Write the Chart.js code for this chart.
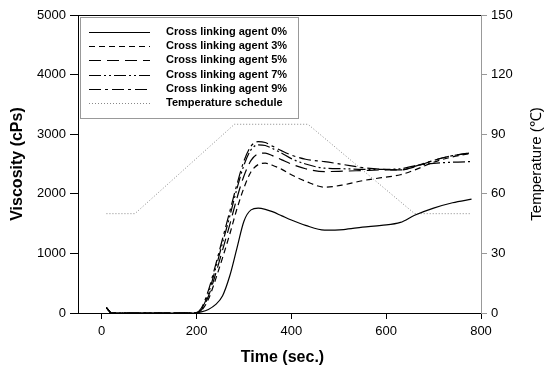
<!DOCTYPE html>
<html>
<head>
<meta charset="utf-8">
<script src="https://cdn.jsdelivr.net/npm/chart.js@4.4.0/dist/chart.umd.min.js"></script>
<style>
  html, body { margin: 0; padding: 0; background: #fff; }
</style>
</head>
<body>
<canvas id="grafico" width="548" height="370"></canvas>
<script>
// tempos (s) das curvas de viscosidade
const tempo = [10, 15, 20, 100, 195, 210, 225, 240, 255, 270, 285, 300, 315, 330, 345, 360, 380, 400, 430, 470, 510, 550, 590, 630, 660, 700, 740, 780];

// viscosidade (cPs) para cada teor de agente reticulante
const visc0 = [90, 40, 0, 0, 0, 20, 60, 140, 290, 620, 1080, 1540, 1730, 1760, 1740, 1700, 1630, 1560, 1470, 1390, 1400, 1440, 1470, 1520, 1640, 1760, 1850, 1910];
const visc3 = [90, 40, 0, 0, 0, 40, 230, 560, 930, 1320, 1740, 2100, 2370, 2490, 2514, 2480, 2410, 2320, 2210, 2112, 2150, 2220, 2270, 2320, 2400, 2530, 2620, 2680];
const visc5 = [90, 40, 0, 0, 0, 50, 280, 650, 1060, 1480, 1920, 2300, 2560, 2670, 2682, 2640, 2570, 2500, 2420, 2373, 2380, 2390, 2400, 2400, 2450, 2560, 2640, 2690];
const visc7 = [90, 40, 0, 0, 0, 60, 330, 740, 1180, 1620, 2080, 2480, 2740, 2820, 2810, 2760, 2680, 2590, 2500, 2430, 2420, 2410, 2410, 2420, 2470, 2510, 2530, 2540];
const visc9 = [90, 40, 0, 0, 0, 80, 380, 800, 1250, 1700, 2150, 2550, 2800, 2876, 2860, 2800, 2720, 2650, 2580, 2540, 2490, 2440, 2410, 2400, 2460, 2560, 2640, 2690];

// programa de temperatura
const tempoTemp = [10, 70, 280, 435, 660, 780];
const temperatura = [50, 50, 95, 95, 50, 50];

const rotulos = ['Cross linking agent 0%', 'Cross linking agent 3%', 'Cross linking agent 5%', 'Cross linking agent 7%', 'Cross linking agent 9%', 'Temperature schedule'];
const ticksX = [0, 200, 400, 600, 800];

function pontos(xs, ys) {
  return xs.map((x, i) => ({ x: x, y: ys[i] }));
}

function serie(label, ys, dash) {
  return {
    label: label,
    data: pontos(tempo, ys),
    borderColor: '#000',
    borderWidth: 1.2,
    borderDash: dash,
    pointRadius: 0,
    fill: false,
    cubicInterpolationMode: 'monotone',
    yAxisID: 'y'
  };
}

const fonteTick = { family: 'Liberation Sans, Arial, sans-serif', size: 13 };
const semVirgula = v => String(v); // sem separador de milhar

// desenha legenda, titulos e a linha de cima
const extras = {
  id: 'extras',
  afterDraw(chart) {
    const ctx = chart.ctx;
    const a = chart.chartArea;
    ctx.save();
    ctx.strokeStyle = '#000';
    ctx.lineWidth = 1;
    ctx.beginPath();
    ctx.moveTo(a.left, a.top + 0.5);
    ctx.lineTo(a.right, a.top + 0.5);
    ctx.stroke();

    ctx.fillStyle = '#000';
    ctx.textAlign = 'center';
    ctx.textBaseline = 'middle';
    ctx.font = 'bold 16px "Liberation Sans", Arial, sans-serif';
    ctx.fillText('Time (sec.)', (a.left + a.right) / 2 + 3, 358);

    ctx.save();
    ctx.translate(18, (a.top + a.bottom) / 2);
    ctx.rotate(-Math.PI / 2);
    ctx.fillText('Viscosity (cPs)', 0, 0);
    ctx.restore();

    ctx.save();
    ctx.translate(537, (a.top + a.bottom) / 2);
    ctx.rotate(-Math.PI / 2);
    ctx.font = '15px "Liberation Sans", Arial, sans-serif';
    ctx.fillText('Temperature (\u2103)', 0, 0);
    ctx.restore();

    // legenda
    ctx.fillStyle = '#fff';
    ctx.fillRect(80.5, 17.5, 218, 101);
    ctx.strokeStyle = '#999';
    ctx.strokeRect(80.5, 17.5, 218, 101);
    ctx.font = 'bold 11px "Liberation Sans", Arial, sans-serif';
    ctx.textAlign = 'left';
    chart.data.datasets.forEach((ds, i) => {
      const y = 32 + i * 14.2;
      ctx.strokeStyle = ds.borderColor;
      ctx.lineWidth = ds.borderWidth;
      ctx.setLineDash(ds.borderDash || []);
      ctx.beginPath();
      ctx.moveTo(89, Math.round(y) + 0.5);
      ctx.lineTo(150, Math.round(y) + 0.5);
      ctx.stroke();
      ctx.setLineDash([]);
      ctx.fillStyle = '#000';
      ctx.fillText(ds.label, 166, y);
    });
    ctx.restore();
  }
};

const grafico = new Chart(document.getElementById('grafico'), {
  type: 'line',
  data: {
    datasets: [
      serie(rotulos[0], visc0, []),
      serie(rotulos[1], visc3, [6, 4]),
      serie(rotulos[2], visc5, [12, 6]),
      serie(rotulos[3], visc7, [12, 3, 2, 3, 2, 3]),
      serie(rotulos[4], visc9, [12, 4, 3, 4]),
      {
        label: rotulos[5],
        data: pontos(tempoTemp, temperatura),
        borderColor: '#888',
        borderWidth: 1,
        borderDash: [1, 2],
        pointRadius: 0,
        fill: false,
        tension: 0,
        yAxisID: 'y2'
      }
    ]
  },
  options: {
    responsive: false,
    animation: false,
    layout: { padding: { top: 15, left: 0, right: 0, bottom: 0 } },
    plugins: {
      legend: { display: false },
      tooltip: { enabled: false }
    },
    scales: {
      x: {
        type: 'linear',
        min: -50,
        max: 800,
        afterBuildTicks: s => { s.ticks = ticksX.map(v => ({ value: v })); },
        afterFit: s => { s.height = 57; },
        ticks: { color: '#000', font: fonteTick, padding: 5, maxRotation: 0, callback: semVirgula },
        grid: { drawOnChartArea: false, drawTicks: true, tickLength: 6, color: '#000' },
        border: { color: '#000', width: 1 }
      },
      y: {
        position: 'left',
        min: 0,
        max: 5000,
        afterFit: s => { s.width = 78; },
        ticks: { stepSize: 1000, color: '#000', font: fonteTick, padding: 4, callback: semVirgula },
        grid: { drawOnChartArea: false, drawTicks: true, tickLength: 8, color: '#000' },
        border: { color: '#000', width: 1 }
      },
      y2: {
        position: 'right',
        min: 0,
        max: 150,
        afterFit: s => { s.width = 67; },
        ticks: { stepSize: 30, color: '#000', font: fonteTick, padding: 4, callback: semVirgula },
        grid: { drawOnChartArea: false, drawTicks: true, tickLength: 6, color: '#999' },
        border: { color: '#999', width: 1 }
      }
    }
  },
  plugins: [extras]
});
</script>
</body>
</html>
